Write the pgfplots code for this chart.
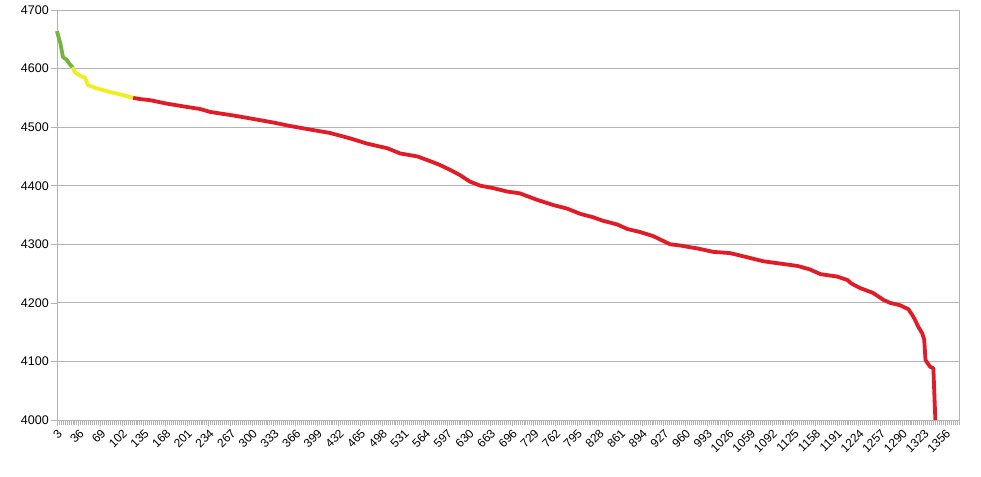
\documentclass[border=0pt]{standalone}
\usepackage{fontspec}
\setmainfont{Liberation Sans}
\usepackage{pgfplots}
\pgfplotsset{compat=1.18}
\definecolor{gridgray}{RGB}{179,179,179}
\definecolor{lgreen}{RGB}{114,182,62}
\definecolor{lyellow}{RGB}{240,238,30}
\definecolor{lred}{RGB}{226,28,38}
\begin{document}
\begin{tikzpicture}
\path[use as bounding box] (-57bp,-57bp) rectangle (924bp,420bp);
\begin{axis}[
  at={(0,0)}, anchor=south west,
  scale only axis, width=902bp, height=410bp,
  xmin=3, xmax=1377, ymin=4000, ymax=4700,
  axis line style={gridgray},
  xtick pos=bottom, ytick pos=left,
  ytick={4000,4100,...,4700},
  ymajorgrids, grid style={gridgray, line width=0.8bp},
  xtick={3,36,...,1356},
  minor xtick={3,6,...,1377},
  tick align=outside,
  major tick length=6bp, minor tick length=5bp,
  tick style={gridgray, line width=0.6bp},
  minor tick style={gridgray, line width=0.5bp},
  x tick label style={rotate=45, anchor=north east, inner sep=1.5bp, font=\fontsize{12bp}{13bp}\selectfont},
  y tick label style={font=\fontsize{12.5bp}{14bp}\selectfont, inner sep=2bp},
  /pgf/number format/assume math mode=true,
  /pgf/number format/1000 sep={},
  clip=false,
]
\addplot[lgreen, line width=3.8bp, line join=round] coordinates {
(3,4664) (5,4655) (8,4644) (10,4632) (12,4620) (15,4617) (18,4615) (22,4608) (27,4602)
};
\addplot[lyellow, line width=3.8bp, line join=round] coordinates {
(27,4602) (30,4594) (38,4588) (46,4584) (50,4572) (61,4567) (84,4560) (99,4556) (119,4550)
};
\addplot[lred, line width=3.8bp, line join=round] coordinates {
(119,4550) (129,4548) (145,4546) (171,4540) (198,4535) (221,4531) (236,4526) (271,4520)
(297,4515) (332,4508) (358,4502) (388,4496) (419,4490) (449,4481) (475,4472) (506,4464)
(526,4455) (552,4450) (576,4440) (587,4435) (602,4427) (617,4418) (632,4407) (648,4400)
(667,4396) (689,4390) (708,4387) (734,4376) (759,4367) (780,4361) (800,4352) (820,4346)
(835,4340) (856,4334) (872,4326) (891,4321) (911,4314) (937,4300) (952,4298) (967,4295)
(978,4293) (1003,4287) (1028,4285) (1054,4278) (1079,4271) (1105,4267) (1131,4263)
(1150,4257) (1166,4249) (1191,4245) (1207,4239) (1213,4233) (1227,4225) (1246,4217)
(1262,4205) (1272,4200) (1287,4196) (1300,4189) (1306,4179) (1310,4171) (1315,4159)
(1321,4148) (1324,4137) (1326,4102) (1333,4091) (1338,4088) (1339,4057) (1340,4028) (1341,4000)
};
\end{axis}
\end{tikzpicture}
\end{document}
